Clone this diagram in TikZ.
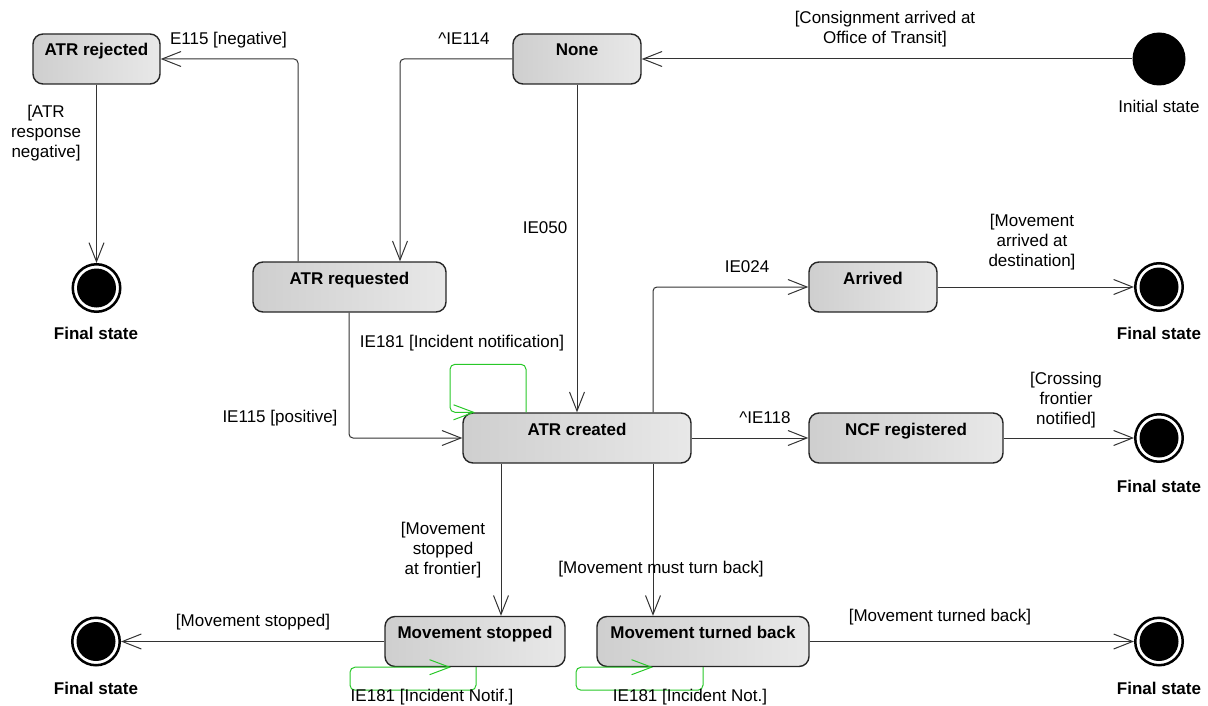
\documentclass[tikz,border=0pt]{standalone}
\usepackage{fontspec}
\setmainfont{Liberation Sans}
\usetikzlibrary{arrows.meta,positioning}
\definecolor{loopgreen}{RGB}{40,200,40}

\begin{document}
\begin{tikzpicture}[x=1pt,y=-1pt,
 font=\fontsize{17}{20}\selectfont,
 state/.style={draw=black!85,line width=1.4pt,rounded corners=10pt,
 left color=black!19,right color=black!9,minimum height=50pt,
 inner xsep=0pt,inner ysep=4pt,text height=18pt,text depth=24pt,font=\fontsize{17}{20}\selectfont\bfseries},
 initst/.style={circle,fill=black,minimum size=53pt,inner sep=0pt},
 finalst/.style={circle,draw=black,line width=2.5pt,fill=white,minimum size=47.5pt,inner sep=0pt,
 path picture={\fill[black] (path picture bounding box.center) circle (19.5pt);}},
 lbl/.style={align=center,inner sep=0pt},
 flbl/.style={inner sep=0pt,font=\fontsize{17}{20}\selectfont\bfseries},
 arr/.style={draw=black!80,line width=1pt,rounded corners=4pt,-{Straight Barb[length=19pt,width=15pt]}},
 loopln/.style={draw=loopgreen,line width=1pt,rounded corners=5pt,-{Straight Barb[length=20pt,width=15pt]}}]
\useasboundingbox (0,0) rectangle (1208,706);
% states
\node[state,minimum width=127pt] (rejected) at (96.5,59) {ATR rejected};
\node[state,minimum width=128pt] (none) at (577,59) {None};
\node[state,minimum width=193pt] (requested) at (349.5,287) {ATR requested};
\node[state,minimum width=228pt] (created) at (577,438) {ATR created};
\node[state,minimum width=128pt] (arrived) at (873,287) {Arrived};
\node[state,minimum width=194pt] (ncf) at (906,438) {NCF registered};
\node[state,minimum width=180pt] (stopped) at (475,641.5) {Movement stopped};
\node[state,minimum width=212pt] (turned) at (703,641.5) {Movement turned back};
% pseudo states
\node[initst] (init) at (1159,59) {};
\node[lbl] (initlbl) at (1159,106) {Initial state};
\node[finalst] (fin1) at (96.5,288) {};
\node[finalst] (fin2) at (1159,287) {};
\node[finalst] (fin3) at (1159,438) {};
\node[finalst] (fin4) at (96,641.5) {};
\node[finalst] (fin5) at (1159,641.5) {};
\node[flbl] (fin1lbl) at (96,333) {Final state};
\node[flbl] (fin2lbl) at (1159,333) {Final state};
\node[flbl] (fin3lbl) at (1159,486) {Final state};
\node[flbl] (fin4lbl) at (96,688) {Final state};
\node[flbl] (fin5lbl) at (1159,688) {Final state};
% transitions
\foreach \a/\b in {init/none,rejected/fin1,none/created,arrived/fin2,created/ncf,ncf/fin3,stopped/fin4,turned/fin5}
 \draw[arr] (\a)--(\b);
\draw[arr] (none.west) -| ([xshift=50.5pt]requested.north);
\draw[arr] ([xshift=-51.5pt]requested.north) |- (rejected.east);
\draw[arr] ([xshift=-0.5pt]requested.south) |- (created.west);
\draw[arr] ([xshift=76pt]created.north) |- (arrived.west);
\coordinate (c1) at ([xshift=-76pt]created.south);
\coordinate (c2) at ([xshift=76pt]created.south);
\draw[arr] (c1) -- (c1 |- stopped.north);
\draw[arr] (c2) -- (c2 |- turned.north);
% self transitions
\draw[loopln] ([xshift=-51pt]created.north) -- ++(0,-48) -| ++(-76,48) -- ++(25,0);
\draw[loopln] ([xshift=1pt]stopped.south) -- ++(0,23) -| ++(-126,-23) -- ++(101,0);
\draw[loopln] (turned.south) -- ++(0,23) -| ++(-127,-23) -- ++(77,0);
% guards and events
\node[lbl] (lconsign) at (885,29) {[Consignment arrived at\\Office of Transit]};
\node[lbl] (l114) at (464,39) {\textasciicircum IE114};
\node[lbl] (l115n) at (228.5,40) {E115 [negative]};
\node[lbl] (lneg) at (46,133) {[ATR\\response\\negative]};
\node[lbl] (l050) at (545,228) {IE050};
\node[lbl] (l181) at (462,343) {IE181 [Incident notification]};
\node[lbl] (l115p) at (280,418) {IE115 [positive]};
\node[lbl] (l024) at (747,267) {IE024};
\node[lbl] (ldest) at (1032,242) {[Movement\\arrived at\\destination]};
\node[lbl] (l118) at (765,418) {\textasciicircum IE118};
\node[lbl] (lcross) at (1066,400) {[Crossing\\frontier\\notified]};
\node[lbl] (lfront) at (443,550) {[Movement\\stopped\\at frontier]};
\node[lbl] (lmust) at (661,569) {[Movement must turn back]};
\node[lbl] (lstop) at (253,622) {[Movement stopped]};
\node[lbl] (lturn) at (940,617) {[Movement turned back]};
\node[lbl] (lnotif) at (432,697) {IE181 [Incident Notif.]};
\node[lbl] (lnot) at (690,697) {IE181 [Incident Not.]};
\end{tikzpicture}
\end{document}
